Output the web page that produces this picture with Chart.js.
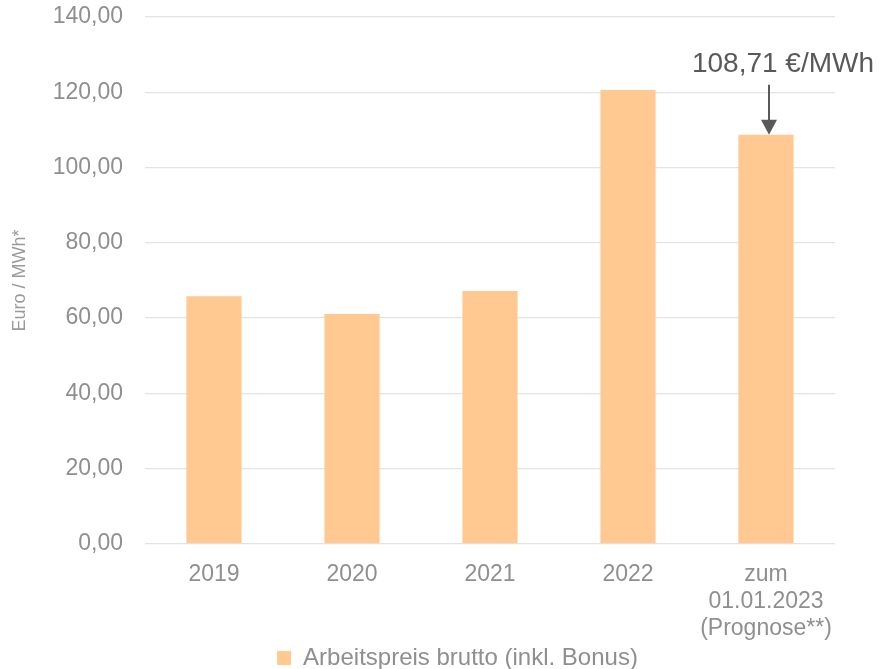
<!DOCTYPE html>
<html>
<head>
<meta charset="utf-8">
<script src="https://cdn.jsdelivr.net/npm/chart.js@4.4.1/dist/chart.umd.min.js"></script>
<style>
  html, body { margin: 0; padding: 0; background: #fff; }
  #wrap { width: 883px; height: 669px; position: relative; }
</style>
</head>
<body>
<div id="wrap"><canvas id="chart" width="883" height="669"></canvas></div>
<script>
// ---------- Daten ----------
const kategorien = ["2019", "2020", "2021", "2022", ["zum", "01.01.2023", "(Prognose**)"]];
const arbeitspreis = [65.8, 61.1, 67.2, 120.6, 108.71];
const serienName = "Arbeitspreis brutto (inkl. Bonus)";
const achsenTitel = "Euro / MWh*";
const yMin = 0, yMax = 140, yStep = 20;
const hinweisIndex = 4;
const hinweisText = "108,71 €/MWh";

const FONT = "'Liberation Sans', Arial, sans-serif";
const GRAU = "#8f8f8f";
const BALKEN = "#FFC991";
const LINKS = 32;   // linker Rand -> Legende sitzt wie im Original
const RECHTS = 48;  // Platz rechts neben der Zeichenfläche

const fmt = v => v.toFixed(2).replace(".", ",");

// ---------- Pfeil + Beschriftung ----------
const hinweisPlugin = {
  id: "hinweis",
  afterDatasetsDraw(chart) {
    const ctx = chart.ctx;
    const bar = chart.getDatasetMeta(0).data[hinweisIndex];
    const x = bar.x + 3;
    const yTop = bar.y;
    ctx.save();
    ctx.fillStyle = "#595959";
    ctx.strokeStyle = "#595959";
    ctx.font = "28px " + FONT;
    ctx.textAlign = "center";
    ctx.fillText(hinweisText, x + 14, yTop - 71);
    ctx.lineWidth = 2;
    ctx.beginPath();
    ctx.moveTo(x, yTop - 50);
    ctx.lineTo(x, yTop - 12);
    ctx.stroke();
    ctx.beginPath();
    ctx.moveTo(x - 8, yTop - 15);
    ctx.lineTo(x + 8, yTop - 15);
    ctx.lineTo(x, yTop);
    ctx.closePath();
    ctx.fill();
    ctx.restore();
  }
};

new Chart(document.getElementById("chart").getContext("2d"), {
  type: "bar",
  data: {
    labels: kategorien,
    datasets: [{
      label: serienName,
      data: arbeitspreis,
      backgroundColor: BALKEN,
      borderWidth: 0,
      categoryPercentage: 1.0,
      barPercentage: 0.4
    }]
  },
  options: {
    responsive: false,
    animation: false,
    devicePixelRatio: 1,
    layout: { padding: { top: 17, right: 0, bottom: -11, left: LINKS } },
    plugins: {
      legend: {
        position: "bottom",
        labels: {
          font: { family: FONT, size: 24, lineHeight: 0.6 },
          color: GRAU,
          boxWidth: 14,
          boxHeight: 14,
          padding: 0
        }
      },
      tooltip: { enabled: false }
    },
    scales: {
      x: {
        afterFit(scale) { scale.height = 102; },
        grid: { display: false },
        border: { display: false },
        ticks: {
          font: { family: FONT, size: 23, lineHeight: 1.17 },
          color: GRAU,
          padding: 9,
          maxRotation: 0,
          autoSkip: false
        }
      },
      y: {
        min: yMin,
        max: yMax,
        afterFit(scale) {
          scale.width = 145 - LINKS;
          scale.paddingTop = 0;
          scale.paddingBottom = 0;
        },
        grid: { color: "#e3e3e3", lineWidth: 1.3, drawTicks: false },
        border: { display: false },
        ticks: {
          stepSize: yStep,
          font: { family: FONT, size: 23 },
          color: GRAU,
          padding: 22,
          callback: v => fmt(v)
        },
        title: {
          display: true,
          text: achsenTitel,
          font: { family: FONT, size: 18 },
          color: "#9a9a9a",
          padding: { top: 9 - LINKS, bottom: 0 }
        }
      },
      rand: {
        type: "linear",
        position: "right",
        display: true,
        grid: { display: false },
        border: { display: false },
        ticks: { display: false },
        afterFit(scale) {
          scale.width = RECHTS;
          scale.paddingTop = 0;
          scale.paddingBottom = 0;
        }
      }
    }
  },
  plugins: [hinweisPlugin]
});
</script>
</body>
</html>
